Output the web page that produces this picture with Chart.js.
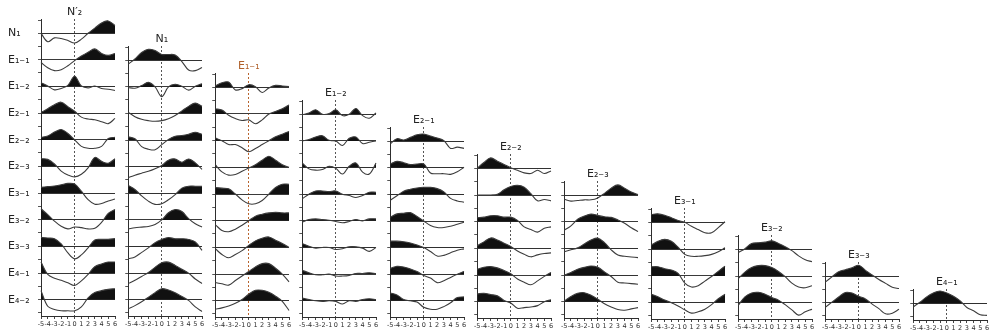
<!DOCTYPE html>
<html>
<head>
<meta charset="utf-8">
<script src="https://cdn.jsdelivr.net/npm/chart.js@4.4.1/dist/chart.umd.min.js"></script>
<style>
  html, body { margin: 0; padding: 0; background: #fff; }
  #wrap { position: relative; width: 989px; height: 334px; overflow: hidden; }
  #wrap canvas { position: absolute; }
</style>
</head>
<body>
<div id="wrap"></div>
<script>
// cross-correlation lags shown on every x axis
const lags = [-5, -4, -3, -2, -1, 0, 1, 2, 3, 4, 5, 6];

const rowNames = ['N₁', 'E₁₋₁', 'E₁₋₂', 'E₂₋₁', 'E₂₋₂', 'E₂₋₃', 'E₃₋₁', 'E₃₋₂', 'E₃₋₃', 'E₄₋₁', 'E₄₋₂'];
const colNames = ['N′₂', 'N₁', 'E₁₋₁', 'E₁₋₂', 'E₂₋₁', 'E₂₋₂', 'E₂₋₃', 'E₃₋₁', 'E₃₋₂', 'E₃₋₃', 'E₄₋₁'];

// one array per column, one row per lower row name (N1 .. E4-2)
const colN2p = [
  [0, -0.65, -0.35, -0.4, -0.55, -0.75, -0.45, 0, 0.4, 0.8, 0.95, 0.6],
  [-0.2, -0.6, -0.82, -0.75, -0.45, -0.05, 0.3, 0.6, 0.85, 0.5, 0.35, 0.5],
  [0.3, 0.05, -0.25, -0.15, 0.1, 0.8, 0.05, -0.1, 0.05, -0.15, -0.2, -0.3],
  [0.05, 0.35, 0.65, 0.85, 0.5, 0.15, -0.3, -0.45, -0.5, -0.65, -0.8, -0.4],
  [0.2, 0.3, 0.6, 0.8, 0.5, 0, -0.5, -0.65, -0.65, -0.5, 0.1, 0.2],
  [0.6, 0.55, 0.2, -0.35, -0.65, -0.8, -0.6, -0.1, 0.7, 0.4, 0.25, 0.6],
  [0.45, 0.5, 0.55, 0.65, 0.75, 0.7, 0.15, -0.5, -0.85, -0.8, -0.6, -0.45],
  [0.85, 0.4, -0.1, -0.5, -0.7, -0.55, -0.6, -0.7, -0.65, -0.2, 0.5, 0.8],
  [0.7, 0.65, 0.6, 0.2, -0.5, -0.95, -0.65, -0.1, 0.5, 0.55, 0.55, 0.6],
  [0.85, -0.1, -0.4, -0.55, -0.75, -0.95, -0.6, -0.1, 0.5, 0.7, 0.85, 0.85],
  [0.7, -0.5, -0.75, -0.85, -0.85, -0.85, -0.55, 0.15, 0.55, 0.7, 0.8, 0.85]
];
const colN1 = [
  [-0.3, 0.1, 0.6, 0.85, 0.75, 0.45, 0.45, 0.4, -0.1, -0.75, -0.8, -0.55],
  [-0.05, -0.1, 0.1, 0.35, 0, -0.75, 0, 0.2, 0.05, -0.25, 0.05, 0.25],
  [0.1, -0.25, -0.45, -0.55, -0.6, -0.55, -0.4, -0.15, 0.2, 0.55, 0.8, 0.55],
  [0.25, 0.1, -0.5, -0.7, -0.75, -0.35, 0.05, 0.3, 0.35, 0.45, 0.6, 0.45],
  [-0.85, -0.65, -0.5, -0.35, -0.15, 0.1, 0.5, 0.6, 0.35, 0.6, 0.3, -0.2],
  [0.6, 0.3, -0.2, -0.6, -0.85, -0.8, -0.5, -0.1, 0.4, 0.55, 0.55, 0.55],
  [-0.7, -0.6, -0.55, -0.5, -0.35, 0, 0.55, 0.8, 0.65, 0.1, -0.3, -0.55],
  [-0.95, -0.8, -0.45, -0.1, 0.3, 0.55, 0.7, 0.6, 0.6, 0.55, 0.35, -0.3],
  [-0.8, -0.55, -0.25, 0.05, 0.45, 0.8, 0.85, 0.6, 0.3, 0, -0.45, -0.8],
  [-0.7, -0.45, -0.15, 0.2, 0.55, 0.85, 0.75, 0.55, 0.25, -0.05, -0.55, -0.9]
];
const colE11 = [
  [0.1, 0.35, 0.4, -0.2, -0.1, 0.2, 0.05, -0.4, -0.05, 0.15, 0.1, 0.05],
  [0.4, 0.3, -0.1, -0.35, -0.5, -0.45, -0.75, -0.45, 0, 0.2, 0.4, 0.7],
  [0.2, 0, -0.3, -0.3, -0.55, -0.85, -0.6, -0.3, 0, 0.3, 0.5, 0.7],
  [0.2, -0.35, -0.6, -0.55, -0.3, -0.05, 0.2, 0.55, 0.85, 0.55, 0.2, 0],
  [0.5, 0.45, 0.4, 0, -0.45, -0.75, -0.75, -0.5, 0, 0.5, 0.75, 0.75],
  [-0.3, -0.75, -0.85, -0.65, -0.35, 0, 0.35, 0.5, 0.6, 0.65, 0.6, 0.6],
  [-0.1, -0.55, -0.8, -0.55, -0.25, 0.15, 0.5, 0.7, 0.8, 0.55, 0.3, 0],
  [-0.65, -0.75, -0.85, -0.5, -0.15, 0.2, 0.55, 0.8, 0.8, 0.45, 0, -0.6],
  [-0.65, -0.55, -0.4, -0.2, 0.1, 0.5, 0.8, 0.8, 0.65, 0.35, -0.05, -0.75]
];
const colE12 = [
  [-0.05, 0.1, 0.35, 0, 0.05, 0.35, -0.1, 0, 0.45, -0.1, -0.3, 0.1],
  [0, 0.1, 0.3, 0.4, 0.05, 0, -0.35, 0.2, 0.3, -0.2, -0.1, 0],
  [0.35, -0.1, -0.2, -0.15, 0.1, -0.05, -0.5, 0.1, 0.35, -0.35, -0.5, 0.35],
  [-0.35, 0, 0.25, 0.25, 0.2, 0.25, 0, -0.1, -0.25, -0.1, 0.15, 0.15],
  [-0.1, 0.1, 0.15, 0.1, 0.05, -0.05, -0.15, -0.05, 0.1, 0, 0.15, 0.15],
  [0.3, 0.1, -0.05, 0, 0, -0.15, -0.1, 0.05, 0.05, -0.05, -0.3, 0],
  [0.3, 0.1, -0.05, -0.05, 0, -0.15, -0.15, -0.1, 0.05, 0.05, 0.1, 0.05],
  [0.2, 0.1, 0, -0.05, 0, -0.05, -0.25, 0, -0.05, 0.1, 0.15, 0.1]
];
const colE21 = [
  [-0.2, 0.2, 0.1, 0.3, 0.5, 0.55, 0.4, 0.25, 0.05, -0.55, -0.45, -0.55],
  [0.3, 0.5, 0.4, 0.25, 0.3, 0.3, -0.4, -0.45, -0.45, -0.5, -0.3, 0.05],
  [-0.45, -0.1, 0.25, 0.4, 0.5, 0.55, 0.55, 0.45, 0.2, -0.3, -0.5, -0.6],
  [0.3, 0.55, 0.6, 0.65, 0.35, 0, -0.35, -0.5, -0.5, -0.4, -0.25, -0.1],
  [0.5, 0.5, 0.45, 0.35, 0.2, 0, -0.3, -0.65, -0.6, -0.4, -0.2, -0.1],
  [0.45, 0.6, 0.55, 0.4, 0.2, -0.1, -0.3, -0.65, -0.5, -0.25, 0, 0.2],
  [0.6, 0.45, 0.1, 0, -0.1, -0.5, -0.65, -0.65, -0.45, -0.15, 0.25, 0.3]
];
const colE22 = [
  [0, 0.45, 0.8, 0.55, 0.3, 0.05, -0.15, -0.35, -0.4, -0.15, -0.4, -0.2],
  [0, 0, 0, 0.05, 0.4, 0.65, 0.75, 0.6, 0.1, -0.45, -0.35, -0.45],
  [0.3, 0.35, 0.45, 0.45, 0.35, 0.35, 0.1, -0.4, -0.6, -0.8, -0.5, -0.4],
  [0.2, 0.5, 0.8, 0.65, 0.4, 0.15, -0.2, -0.45, -0.65, -0.5, -0.4, -0.35],
  [0.45, 0.6, 0.65, 0.55, 0.35, 0.1, -0.3, -0.55, -0.75, -0.45, -0.1, 0.2],
  [0.6, 0.65, 0.55, 0.45, 0.1, -0.1, -0.5, -0.45, -0.4, -0.3, 0, 0.15]
];
const colE23 = [
  [-0.3, -0.45, -0.4, -0.35, -0.35, -0.2, 0.15, 0.55, 0.8, 0.55, 0.25, 0.05],
  [-0.65, -0.3, 0.2, 0.45, 0.6, 0.5, 0.4, 0.35, 0.15, -0.1, -0.45, -0.75],
  [-0.25, -0.1, 0.05, 0.35, 0.65, 0.8, 0.45, -0.1, -0.5, -0.6, -0.65, -0.7],
  [0, 0.2, 0.45, 0.6, 0.7, 0.6, 0.25, -0.1, -0.55, -0.6, -0.65, -0.7],
  [0.05, 0.4, 0.65, 0.7, 0.5, 0.2, -0.15, -0.4, -0.6, -0.65, -0.55, -0.45]
];
const colE31 = [
  [0.6, 0.65, 0.55, 0.35, 0.15, 0, -0.3, -0.55, -0.8, -0.8, -0.4, 0.05],
  [0.3, 0.6, 0.75, 0.6, 0.15, -0.4, -0.55, -0.55, -0.5, -0.4, -0.2, 0.1],
  [0.7, 0.7, 0.55, 0.45, 0.2, -0.55, -0.85, -0.75, -0.4, -0.05, 0.35, 0.75],
  [0.65, 0.45, 0.2, 0, -0.25, -0.55, -0.8, -0.7, -0.5, -0.15, 0.3, 0.65]
];
const colE32 = [
  [-0.25, 0.05, 0.45, 0.5, 0.55, 0.65, 0.45, 0.2, -0.1, -0.5, -0.8, -0.95],
  [-0.2, 0.3, 0.65, 0.8, 0.8, 0.65, 0.35, -0.05, -0.55, -0.85, -0.9, -0.75],
  [-0.2, 0.45, 0.75, 0.8, 0.65, 0.4, 0.2, -0.15, -0.55, -0.95, -0.7, -0.5]
];
const colE33 = [
  [-0.45, -0.05, 0.35, 0.5, 0.65, 0.85, 0.45, 0.1, -0.25, -0.55, -0.85, -0.95],
  [-0.35, 0.05, 0.45, 0.8, 0.75, 0.5, 0.3, -0.1, -0.45, -0.85, -0.8, -0.5]
];
const colE41 = [
  [-0.25, 0.1, 0.5, 0.8, 0.95, 0.8, 0.55, 0.2, -0.3, -0.55, -0.85, -0.9]
];

const columns = [colN2p, colN1, colE11, colE12, colE21, colE22, colE23, colE31, colE32, colE33, colE41];

(function () {
  const ROW_H = 26.65;        // px between baselines
  const Y_MIN = -1.25, Y_MAX = 0.8, TOP_MAX = 1.1;
  const PANEL_W = 74;
  const PAD_T = 24, PAD_R = 5, X_AXIS_H = 14;
  const FONT = '"DejaVu Sans", sans-serif';
  const INK = '#2e2e2e';
  const CLEAR = 'rgba(0,0,0,0)';
  const topWeight = (TOP_MAX - Y_MIN) / (Y_MAX - Y_MIN);

  // column title, centred over the lag-0 line
  const colTitle = {
    id: 'colTitle',
    afterDraw(chart, args, opts) {
      const { ctx, chartArea, scales } = chart;
      ctx.save();
      ctx.font = '11px ' + FONT;
      ctx.fillStyle = opts.color;
      ctx.textAlign = 'center';
      ctx.textBaseline = 'middle';
      ctx.fillText(opts.text, scales.x.getPixelForValue(0), chartArea.top - 7);
      ctx.restore();
    }
  };

  const wrap = document.getElementById('wrap');

  columns.forEach((rows, c) => {
    const n = rows.length;
    const first = rowNames.length - n;
    const leftW = c === 0 ? 33 : 4;
    const axisX = 41 + 87.15 * c;
    const base0 = 33 + 27.05 * c;
    const areaTop = base0 - TOP_MAX * ROW_H / (Y_MAX - Y_MIN);
    const areaH = ROW_H * (n - 1 + topWeight);
    const zeroColor = c === 2 ? '#b8642e' : '#555';

    const canvas = document.createElement('canvas');
    canvas.width = Math.round(leftW + PANEL_W + PAD_R);
    canvas.height = Math.round(PAD_T + areaH + X_AXIS_H);
    canvas.style.left = Math.round(axisX - leftW) + 'px';
    canvas.style.top = Math.round(areaTop - PAD_T) + 'px';
    wrap.appendChild(canvas);

    const scales = {
      x: {
        type: 'linear',
        position: 'bottom',
        min: -5,
        max: 6,
        afterBuildTicks: s => { s.ticks = lags.map(v => ({ value: v })); },
        afterFit: s => { s.height = X_AXIS_H; },
        ticks: {
          autoSkip: false,
          maxRotation: 0,
          padding: 1,
          color: INK,
          font: { family: FONT, size: 6.5 },
        },
        grid: {
          color: ctx => (ctx.tick && ctx.tick.value === 0) ? zeroColor : CLEAR,
          lineWidth: 1,
          tickLength: 3,
          tickColor: '#444',
        },
        border: { display: true, color: INK, width: 1, dash: [2, 2] },
      }
    };

    const datasets = rows.map((vals, r) => {
      const id = 'y' + r;
      scales[id] = {
        type: 'linear',
        position: 'left',
        stack: 'rows',
        stackWeight: r === 0 ? topWeight : 1,
        weight: n - r,
        min: Y_MIN,
        max: r === 0 ? TOP_MAX : Y_MAX,
        afterBuildTicks: s => { s.ticks = (r === 0 ? [1, 0, -1] : [0, -1]).map(v => ({ value: v })); },
        afterFit: s => { s.width = leftW; },
        ticks: {
          display: c === 0,
          autoSkip: false,
          crossAlign: 'far',
          padding: 0,
          color: '#222',
          font: { family: FONT, size: 11 },
          callback: v => (v === 0 ? rowNames[first + r] : ''),
        },
        grid: {
          color: ctx => (ctx.tick && ctx.tick.value === 0) ? '#3a3a3a' : CLEAR,
          lineWidth: 1,
          tickLength: 3,
          tickColor: '#555',
        },
        border: { display: true, color: INK, width: 1 },
      };
      return {
        data: lags.map((x, k) => ({ x: x, y: vals[k] })),
        yAxisID: id,
        xAxisID: 'x',
        borderColor: '#3c3c3c',
        borderWidth: 1.1,
        pointRadius: 0,
        tension: 0.35,
        clip: false,
        fill: { target: { value: 0 }, above: '#111', below: CLEAR },
      };
    });

    new Chart(canvas, {
      type: 'line',
      data: { datasets },
      options: {
        responsive: false,
        devicePixelRatio: 1,
        animation: false,
        events: [],
        layout: { padding: { top: PAD_T, right: PAD_R, left: 0, bottom: 0 } },
        plugins: {
          legend: { display: false },
          tooltip: { enabled: false },
          colTitle: { text: colNames[c], color: c === 2 ? '#b0602a' : '#222' },
        },
        scales,
      },
      plugins: [colTitle],
    });
  });
})();
</script>
</body>
</html>
